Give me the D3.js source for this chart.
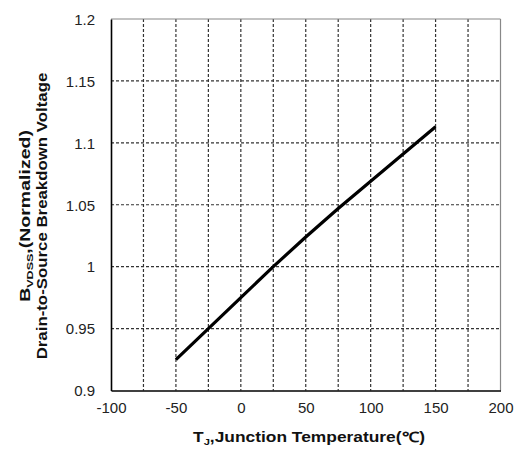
<!DOCTYPE html>
<html><head><meta charset="utf-8">
<script src="https://cdn.jsdelivr.net/npm/d3@7/dist/d3.min.js"></script>
<style>body{margin:0;background:#fff}</style>
</head><body>
<script>
const temps = [-50, -25, 0, 25, 50, 75, 100, 125, 150];
const bvdss = [0.925, 0.950, 0.975, 1.000, 1.024, 1.047, 1.069, 1.091, 1.113];
const xTicks = [-100, -50, 0, 50, 100, 150, 200];
const yTicks = [0.9, 0.95, 1, 1.05, 1.1, 1.15, 1.2];
const xGrid = d3.range(-75, 200, 25);
const yGrid = [0.95, 1, 1.05, 1.1, 1.15];

const W = 521, H = 452;
const FONT = "Arial, 'Liberation Sans', sans-serif";
const svg = d3.select("body").append("svg").attr("width", W).attr("height", H)
  .style("font-family", FONT);
const L = 111, R = 500.5, T = 19, B = 390.5;
const x = d3.scaleLinear().domain([-100, 200]).range([L, R]);
const y = d3.scaleLinear().domain([0.9, 1.2]).range([B, T]);

const g = svg.append("g");
g.selectAll(".vg").data(xGrid).enter().append("line")
  .attr("x1", d => x(d)).attr("x2", d => x(d)).attr("y1", T).attr("y2", B)
  .attr("stroke", "#333").attr("stroke-width", 1.2).attr("stroke-dasharray", "3,2");
g.selectAll(".hg").data(yGrid).enter().append("line")
  .attr("y1", d => y(d)).attr("y2", d => y(d)).attr("x1", L).attr("x2", R)
  .attr("stroke", "#333").attr("stroke-width", 1.2).attr("stroke-dasharray", "3,2");

svg.append("line").attr("x1", L).attr("x2", R).attr("y1", T).attr("y2", T).attr("stroke", "#888").attr("stroke-width", 1.2);
svg.append("line").attr("x1", R).attr("x2", R).attr("y1", T).attr("y2", B).attr("stroke", "#888").attr("stroke-width", 1.2);

const xAxis = svg.append("g").attr("transform", `translate(0,${B})`)
  .call(d3.axisBottom(x).tickValues(xTicks).tickSize(0).tickPadding(12).tickFormat(d => String(d)));
const yAxis = svg.append("g").attr("transform", `translate(${L},0)`)
  .call(d3.axisLeft(y).tickValues(yTicks).tickSize(0).tickPadding(16).tickFormat(d => String(d)));
[xAxis, yAxis].forEach(a => {
  a.select(".domain").attr("stroke", "#000").attr("stroke-width", 1.6);
  a.selectAll("text").attr("font-size", 15).attr("fill", "#222").attr("font-family", FONT);
});
yAxis.selectAll("text").attr("dy", "0.35em");

svg.append("path").datum(temps.map((t, i) => [t, bvdss[i]]))
  .attr("d", d3.line().x(d => x(d[0])).y(d => y(d[1])))
  .attr("fill", "none").attr("stroke", "#000").attr("stroke-width", 3.2);

function fitX(sel, target) {
  const len = sel.node().getComputedTextLength();
  sel.attr("transform", `scale(${target / len},1)`);
}

const xg = svg.append("g").attr("transform", "translate(309,442)");
const xt = xg.append("text").attr("text-anchor", "middle")
  .attr("font-size", 14).attr("font-weight", "bold").attr("fill", "#111");
xt.append("tspan").text("T");
xt.append("tspan").text("J").attr("font-size", 9).attr("dy", 3);
xt.append("tspan").text(",Junction Temperature(℃)").attr("dy", -3);
fitX(xt, 232);

const yt = svg.append("g").attr("transform", `translate(30,216) rotate(-90)`);
const t1 = yt.append("text").attr("text-anchor", "middle").attr("font-size", 14).attr("font-weight", "bold").attr("fill", "#111");
t1.append("tspan").text("B");
t1.append("tspan").text("VDSS").attr("font-size", 9).attr("dy", 3);
t1.append("tspan").text(",(Normalized)").attr("dy", -3);
fitX(t1, 172);
const yg2 = yt.append("g").attr("transform", "translate(0,17)");
const t2 = yg2.append("text").attr("text-anchor", "middle").attr("font-size", 14).attr("font-weight", "bold").attr("fill", "#111")
  .text("Drain-to-Source Breakdown Voltage");
fitX(t2, 287);
</script>
</body></html>
